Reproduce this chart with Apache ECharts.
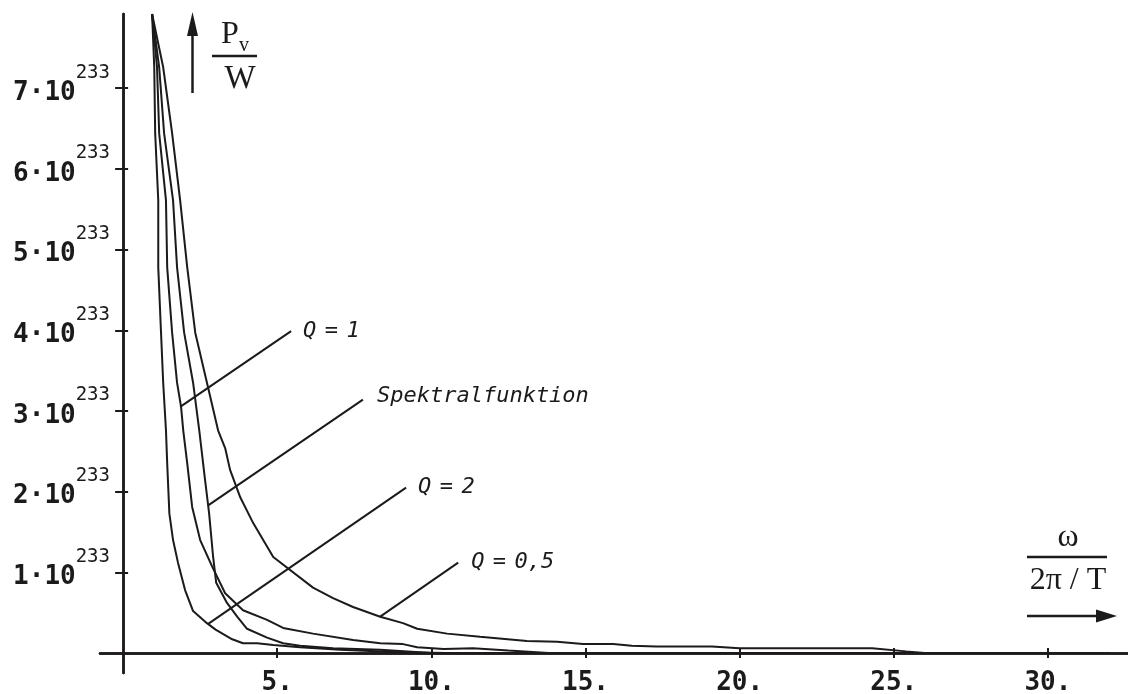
<!DOCTYPE html>
<html><head><meta charset="utf-8">
<script src="https://cdn.jsdelivr.net/npm/echarts@6/dist/echarts.min.js"></script>
<style>html,body{margin:0;padding:0;background:#fff}#c{width:1128px;height:694px}</style>
</head><body><div id="c"></div>
<script>
// ---- data (values in units of 10^233 for y, omega/(2pi/T) for x) ----
const curveQ2 = [[0.94,7.92],[1.01,7.26],[1.04,6.44],[1.14,5.61],[1.14,4.78],[1.23,3.97],[1.30,3.35],[1.39,2.76],[1.43,2.35],[1.50,1.73],[1.62,1.40],[1.78,1.12],[2.01,0.78],[2.27,0.52],[2.72,0.37],[3.00,0.29],[3.54,0.17],[3.89,0.12],[4.35,0.12],[4.87,0.10],[5.74,0.07],[7.04,0.04],[9.0,0.01],[10.5,0],[32,0]];
const curveQ1 = [[0.94,7.92],[1.10,7.26],[1.17,6.44],[1.39,5.61],[1.43,4.78],[1.59,3.97],[1.75,3.35],[1.88,3.05],[1.95,2.76],[2.08,2.35],[2.24,1.81],[2.50,1.40],[2.89,1.07],[3.31,0.74],[3.89,0.53],[4.67,0.41],[5.19,0.31],[6.16,0.24],[7.46,0.16],[8.34,0.12],[9.08,0.11],[9.54,0.07],[10.4,0.05],[11.35,0.06],[12.5,0.03],[13.8,0],[32,0]];
const curveSpektral = [[0.94,7.92],[1.17,7.26],[1.33,6.44],[1.62,5.61],[1.75,4.78],[1.98,3.97],[2.27,3.35],[2.47,2.76],[2.66,2.14],[2.79,1.73],[2.92,1.19],[3.02,0.87],[3.37,0.62],[3.70,0.45],[4.02,0.30],[4.67,0.19],[5.19,0.12],[5.74,0.09],[6.81,0.06],[8.34,0.04],[10.0,0],[32,0]];
const curveQ05 = [[0.94,7.92],[1.30,7.26],[1.59,6.44],[1.85,5.61],[2.08,4.78],[2.34,3.97],[2.72,3.35],[3.08,2.76],[3.31,2.54],[3.47,2.27],[3.80,1.93],[4.22,1.61],[4.87,1.19],[6.16,0.81],[6.81,0.68],[7.46,0.57],[8.34,0.45],[9.08,0.37],[9.54,0.30],[10.51,0.24],[11.58,0.20],[13.1,0.15],[14.08,0.14],[14.92,0.11],[15.9,0.11],[16.5,0.09],[17.3,0.08],[19.1,0.08],[20.0,0.06],[21.0,0.06],[24.3,0.06],[25.4,0.02],[26.0,0],[32,0]];

const leaderQ1 = [[1.85,3.05],[5.45,3.99]];
const leaderSpektral = [[2.76,1.83],[7.78,3.14]];
const leaderQ2 = [[2.76,0.36],[9.18,2.05]];
const leaderQ05 = [[8.34,0.45],[10.87,1.12]];
const leaderTexts = ['Q = 1', 'Spektralfunktion', 'Q = 2', 'Q = 0,5'];

const yTickValues = [1,2,3,4,5,6,7];
const yExponent = '233';
const xTickValues = [5,10,15,20,25,30];

// ---- chart ----
const INK = '#1c1a1a';
const chart = echarts.init(document.getElementById('c'), null, {renderer:'canvas'});

function richLeaderText(t){
  return t.split(' ').map(p => '{t|' + p + '}').join('{s| }');
}
const leaderRich = {
  t:{fontFamily:'DejaVu Sans Mono', fontStyle:'italic', fontSize:22, color:INK},
  s:{fontFamily:'DejaVu Sans Mono', fontSize:14, color:INK}
};

function curveSeries(d){
  return {type:'line', data:d, showSymbol:false, symbol:'none', smooth:false, silent:true, animation:false,
    lineStyle:{color:INK, width:2}, z:3};
}
function leaderSeries(d, txt, dist, off){
  return {type:'line', data:d, showSymbol:false, symbol:'none', silent:true, animation:false,
    lineStyle:{color:INK, width:2}, z:4,
    endLabel:{show:true, distance:dist, offset:off||[0,0], formatter:() => richLeaderText(txt), rich:leaderRich}};
}

const tickStyle = {color:INK, width:2};
const axisLineStyle = {color:INK, width:2.5};

chart.setOption({
  animation:false,
  backgroundColor:'#ffffff',
  grid:{left:100, right:0, top:14, bottom:21, containLabel:false, outerBoundsMode:'none'},
  xAxis:[{
    type:'value', min:-0.75, max:32.6,
    axisLine:{show:true, onZero:true, lineStyle:axisLineStyle},
    axisTick:{show:true, customValues:xTickValues, length:5, lineStyle:tickStyle},
    axisLabel:{show:true, customValues:xTickValues, margin:-3, formatter:v => v + '.',
      fontFamily:'DejaVu Sans Mono', fontWeight:'bold', fontSize:26, color:INK},
    splitLine:{show:false}
  },{
    type:'value', min:-0.75, max:32.6, position:'bottom',
    axisLine:{show:true, onZero:true, onZeroAxisIndex:0, lineStyle:axisLineStyle},
    axisTick:{show:true, inside:true, customValues:xTickValues, length:5, lineStyle:tickStyle},
    axisLabel:{show:false}, splitLine:{show:false}
  }],
  yAxis:[{
    type:'value', min:-0.248, max:7.92,
    axisLine:{show:true, onZero:true, lineStyle:axisLineStyle},
    axisTick:{show:true, customValues:yTickValues, length:8, lineStyle:tickStyle},
    axisLabel:{show:true, customValues:yTickValues, margin:-10, padding:[0,0,7,0],
      formatter:v => '{a|' + v + '·10}{b|' + yExponent + '}',
      rich:{
        a:{fontFamily:'DejaVu Sans Mono', fontWeight:'bold', fontSize:26, color:INK, verticalAlign:'bottom'},
        b:{fontFamily:'DejaVu Sans Mono', fontSize:19, color:INK, verticalAlign:'top', lineHeight:43}
      }},
    splitLine:{show:false}
  },{
    type:'value', min:-0.248, max:7.92, position:'left',
    axisLine:{show:true, onZero:true, onZeroAxisIndex:0, lineStyle:axisLineStyle},
    axisTick:{show:true, inside:true, customValues:yTickValues, length:5, lineStyle:tickStyle},
    axisLabel:{show:false}, splitLine:{show:false}
  }],
  series:[
    curveSeries(curveQ2), curveSeries(curveQ1), curveSeries(curveSpektral), curveSeries(curveQ05),
    leaderSeries(leaderQ1, leaderTexts[0], 12),
    leaderSeries(leaderSpektral, leaderTexts[1], 14, [0,-3]),
    leaderSeries(leaderQ2, leaderTexts[2], 12),
    leaderSeries(leaderQ05, leaderTexts[3], 13)
  ],
  graphic:[
    {type:'line', shape:{x1:192.5, y1:93, x2:192.5, y2:32}, style:{stroke:INK, lineWidth:2.5}},
    {type:'polygon', shape:{points:[[192.5,12],[187,36],[198,36]]}, style:{fill:INK}},
    {type:'text', x:230, y:35, style:{text:'P', font:'32px "Liberation Serif"', fill:INK, align:'center', verticalAlign:'middle', textAlign:'center', textVerticalAlign:'middle'}},
    {type:'text', x:244, y:46, style:{text:'v', font:'20px "Liberation Serif"', fill:INK, align:'center', verticalAlign:'middle', textAlign:'center', textVerticalAlign:'middle'}},
    {type:'line', shape:{x1:212, y1:56, x2:257, y2:56}, style:{stroke:INK, lineWidth:2.5}},
    {type:'text', x:240, y:79, style:{text:'W', font:'33px "Liberation Serif"', fill:INK, align:'center', verticalAlign:'middle', textAlign:'center', textVerticalAlign:'middle'}},
    {type:'text', x:1068, y:538, style:{text:'ω', font:'32px "Liberation Serif"', fill:INK, align:'center', verticalAlign:'middle', textAlign:'center', textVerticalAlign:'middle'}},
    {type:'line', shape:{x1:1027, y1:557, x2:1107, y2:557}, style:{stroke:INK, lineWidth:2.5}},
    {type:'text', x:1068, y:581, style:{text:'2π / T', font:'32px "Liberation Serif"', fill:INK, align:'center', verticalAlign:'middle', textAlign:'center', textVerticalAlign:'middle'}},
    {type:'line', shape:{x1:1027, y1:616, x2:1100, y2:616}, style:{stroke:INK, lineWidth:2.5}},
    {type:'polygon', shape:{points:[[1117,616],[1096,609.5],[1096,622.5]]}, style:{fill:INK}}
  ]
});
</script>
</body></html>
